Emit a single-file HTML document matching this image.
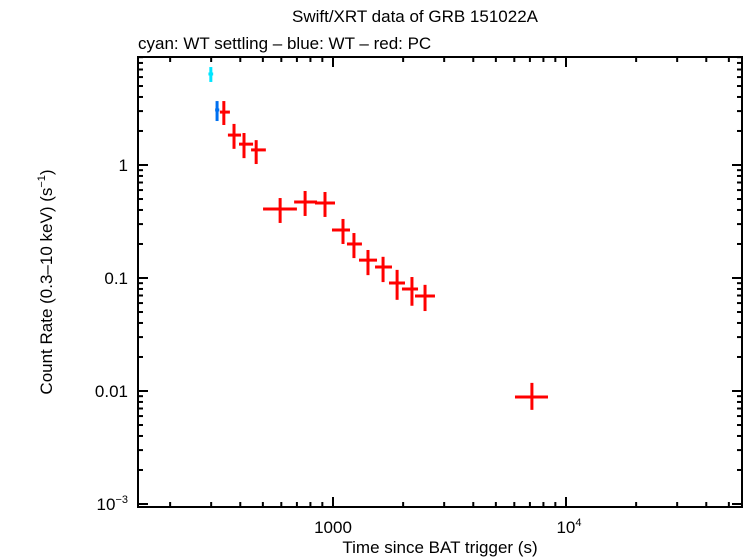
<!DOCTYPE html>
<html><head><meta charset="utf-8"><style>
body{margin:0;background:#fff;}
svg{display:block;font-family:"Liberation Sans",sans-serif;}
</style></head><body>
<svg id="chart" width="746" height="558" viewBox="0 0 746 558" xmlns="http://www.w3.org/2000/svg">
<text x="415" y="22" font-size="17" text-anchor="middle">Swift/XRT data of GRB 151022A</text>
<text x="138" y="49" font-size="17">cyan: WT settling – blue: WT – red: PC</text>
<text transform="translate(52,282) rotate(-90)" font-size="17" text-anchor="middle">Count Rate (0.3–10 keV) (s<tspan font-size="11" dy="-7">−1</tspan><tspan dy="7">)</tspan></text>
<text x="440" y="553" font-size="17" text-anchor="middle">Time since BAT trigger (s)</text>
<g id="axes"></g>
<g id="marks"></g>
</svg>
<script>
const cyanT=[299], cyanTlo=[292], cyanThi=[306], cyanR=[6.39], cyanRlo=[5.43], cyanRhi=[7.36];
const blueT=[318], blueTlo=[312], blueThi=[325], blueR=[3.07], blueRlo=[2.45], blueRhi=[3.68];
const redT=[340,376,415,468,593,759,924,1104,1230,1413,1640,1884,2182,2483,7140];
const redTlo=[327,354,395,445,501,681,837,990,1148,1293,1515,1739,1977,2249,6040];
const redThi=[361,403,454,515,700,854,1020,1183,1331,1545,1791,2037,2317,2739,8370];
const redR=[2.94,1.84,1.53,1.36,0.408,0.471,0.461,0.266,0.200,0.144,0.125,0.0903,0.0800,0.0693,0.00885];
const redRlo=[2.26,1.39,1.15,1.02,0.307,0.354,0.347,0.200,0.150,0.106,0.0920,0.0641,0.0568,0.0510,0.00681];
const redRhi=[3.68,2.31,1.92,1.66,0.510,0.589,0.577,0.333,0.250,0.177,0.154,0.118,0.102,0.0870,0.0118];
const yTickVals=[1,0.1,0.01,0.001];
const yTickLabels=["1","0.1","0.01","10^-3"];
const xTickVals=[1000,10000];
const xTickLabels=["1000","10^4"];

const L=138,R=742,T=57,B=507;
const X0=333, XD=233, Y0=165, YD=113;
const sx=t=>X0+(Math.log10(t)-3)*XD;
const sy=r=>Y0-Math.log10(r)*YD;
const NS="http://www.w3.org/2000/svg";
const axes=document.getElementById('axes'), marks=document.getElementById('marks');
function mk(tag,attrs,parent){const e=document.createElementNS(NS,tag);for(const k in attrs)e.setAttribute(k,attrs[k]);parent.appendChild(e);return e;}

const frame=mk('rect',{x:L,y:T,width:R-L,height:B-T,fill:'none',stroke:'#000','stroke-width':2},axes);



// x ticks
for(let d=2;d<=4;d++){for(let m=1;m<=9;m++){const v=m*Math.pow(10,d);const x=sx(v);if(x<L||x>R)continue;const len=m===1?10:5;
 const a=mk('line',{x1:x,x2:x,y1:B,y2:B-len,stroke:'#000','stroke-width':2},axes);
 
 
 const b=mk('line',{x1:x,x2:x,y1:T,y2:T+len,stroke:'#000','stroke-width':2},axes);
 
 }}
// y ticks
for(let d=-3;d<=0;d++){for(let m=1;m<=9;m++){const v=m*Math.pow(10,d);const y=sy(v);if(y<T||y>B)continue;const len=m===1?10:5;
 const a=mk('line',{x1:L,x2:L+len,y1:y,y2:y,stroke:'#000','stroke-width':2},axes);
 
 
 const b=mk('line',{x1:R,x2:R-len,y1:y,y2:y,stroke:'#000','stroke-width':2},axes);
 
 }}
function label(str,x,y,anchor,name){const t=mk('text',{x:x,y:y,'font-size':17,'text-anchor':anchor},axes);
 
 
 if(str.indexOf('^')>=0){const p=str.split('^');const s1=mk('tspan',{},t);s1.textContent=p[0];const s2=mk('tspan',{'font-size':11,dy:-7},t);s2.textContent=p[1].replace('-','−');}else t.textContent=str;}
yTickVals.forEach((v,i)=>label(yTickLabels[i],128,sy(v)+6,'end','y-tick-label'));
xTickVals.forEach((v,i)=>label(xTickLabels[i],sx(v)+(i?3:0),533,'middle','x-tick-label'));

function series(T_,Tlo,Thi,Rv,Rlo,Rhi,color,name){for(let i=0;i<T_.length;i++){
 const x=sx(T_[i]),y=sy(Rv[i]);
 const g=mk('g',{stroke:color,'stroke-width':3},marks);
 
 
 mk('line',{x1:sx(Tlo[i]),x2:sx(Thi[i]),y1:y,y2:y},g);
 mk('line',{x1:x,x2:x,y1:sy(Rhi[i]),y2:sy(Rlo[i])},g);}}
series(redT,redTlo,redThi,redR,redRlo,redRhi,'#ff0000','pc-point');
series(cyanT,cyanTlo,cyanThi,cyanR,cyanRlo,cyanRhi,'#00e5ff','wt-settling-point');
series(blueT,blueTlo,blueThi,blueR,blueRlo,blueRhi,'#0070f0','wt-point');
</script>
</body></html>
